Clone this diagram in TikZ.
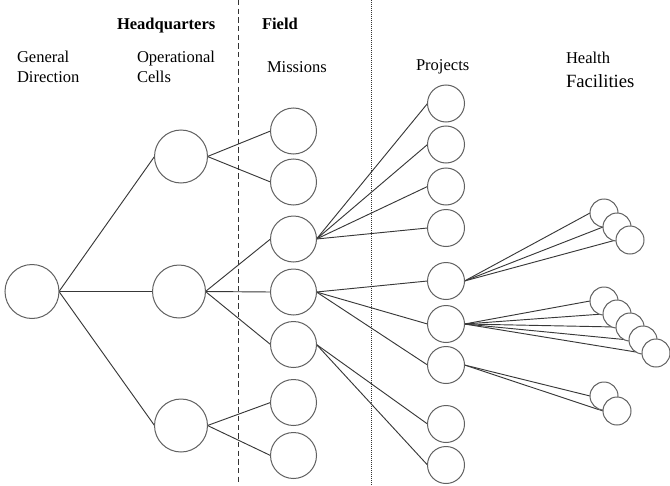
\documentclass[tikz,border=0pt]{standalone}
\usepackage{fontspec}
\setmainfont{Liberation Serif}
\usetikzlibrary{backgrounds}
\begin{document}
\begin{tikzpicture}[x=0.75pt,y=-0.75pt,
  unit/.style={circle,draw=black!62,fill=white,line width=0.75pt,inner sep=0pt,outer sep=0pt},
  topnode/.style={unit,minimum size=40.5pt},
  cellnode/.style={unit,minimum size=39.75pt},
  missionnode/.style={unit,minimum size=34.5pt},
  projectnode/.style={unit,minimum size=27.75pt},
  facilitynode/.style={unit,minimum size=21pt},
  link/.style={draw=black!78,line width=0.7pt},
  lbl/.style={anchor=base west,inner sep=0pt,outer sep=0pt,align=left,
    font=\fontsize{12.4}{15}\selectfont},
  head/.style={lbl,font=\fontsize{12.4}{15}\selectfont\bfseries},
  divider/.style={draw=black!80,line width=0.75pt}
]
\useasboundingbox (0,0) rectangle (670,485);

% column dividers
\draw[divider,dash pattern=on 4pt off 2.5pt] (238,0) coordinate (hqtop) -- (238,485) coordinate (hqbot);
\draw[divider,line width=0.6pt,dash pattern=on 0.75pt off 0.75pt] (371,0) coordinate (fdtop) -- (371,485) coordinate (fdbot);

% column headings (multi-line labels are anchored at their last baseline)
\node[head] (hq) at (117,29.5) {Headquarters};
\node[head] (field) at (262,29.5) {Field};
\node[lbl] (lgd) at (17,83) {General\\Direction};
\node[lbl] (lcells) at (137,83) {Operational\\Cells};
\node[lbl] (lmis) at (267,72) {Missions};
\node[lbl] (lproj) at (416,70) {Projects};
\node[lbl] (lhealth) at (566,64) {Health};
\node[lbl,font=\fontsize{14}{16}\selectfont] (lfac) at (566,88) {Facilities};

% general direction
\node[topnode] (gd) at (32,291.5) {};

% operational cells
\node[cellnode] (c1) at (181,156.5) {};
\node[cellnode] (c2) at (179,291.5) {};
\node[cellnode] (c3) at (181,425.5) {};

% missions
\foreach \i/\y in {1/131,2/182,3/239,4/292,5/344.5,6/402.5,7/455.5}
  \node[missionnode] (m\i) at (293.5,\y) {};

% projects
\foreach \i/\y in {1/103.5,2/144.5,3/186.5,4/228,5/281,6/324,7/365,8/424,9/465}
  \node[projectnode] (p\i) at (446,\y) {};

% health facilities (later ones overlap earlier ones)
\foreach \i/\x/\y in {1/604/213,2/617/227,3/630/240,
                      4/604/301,5/617/314,6/630/327,7/643/340,8/656/353,
                      9/604/396,10/617/411}
  \node[facilitynode] (h\i) at (\x,\y) {};

\begin{pgfonlayer}{background}
  \foreach \c in {c1,c2,c3} \draw[link] (gd.east) -- (\c.west);
  \foreach \m in {m1,m2} \draw[link] (c1.east) -- (\m.west);
  \foreach \m in {m3,m4,m5} \draw[link] (c2.east) -- (\m.west);
  \foreach \m in {m6,m7} \draw[link] (c3.east) -- (\m.west);
  \foreach \p in {p1,p2,p3,p4} \draw[link] (m3.east) -- (\p.west);
  \foreach \p in {p5,p6,p7} \draw[link] (m4.east) -- (\p.west);
  \foreach \p in {p8,p9} \draw[link] (m5.east) -- (\p.west);
  \foreach \h in {h1,h2,h3} \draw[link] (p5.east) -- (\h.west);
  \foreach \h in {h4,h5,h6,h7,h8} \draw[link] (p6.east) -- (\h.west);
  \foreach \h in {h9,h10} \draw[link] (p7.east) -- (\h.west);
\end{pgfonlayer}
\end{tikzpicture}
\end{document}
